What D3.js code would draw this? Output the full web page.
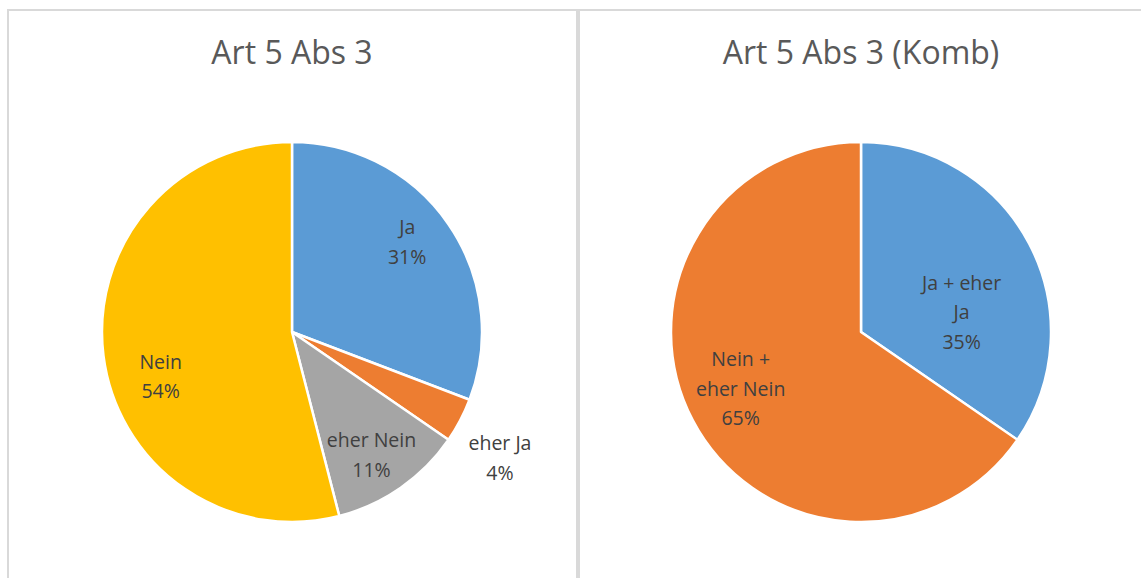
<!DOCTYPE html>
<html>
<head>
<meta charset="utf-8">
<script src="https://cdn.jsdelivr.net/npm/d3@7"></script>
<style>
  html, body { margin: 0; padding: 0; background: #fff; }
  svg { display: block; }
</style>
</head>
<body>
<svg id="chart" width="1141" height="578"></svg>
<script>
// left chart: four answers
const leftTitle = 'Art 5 Abs 3'
const leftCategories = ['Ja', 'eher Ja', 'eher Nein', 'Nein']
const leftValues = [30.8, 3.8, 11.4, 54.0]
const leftColors = ['#5b9bd5', '#ed7d31', '#a5a5a5', '#ffc000']

// right chart: combined answers
const rightTitle = 'Art 5 Abs 3 (Komb)'
const rightCategories = ['Ja + eher Ja', 'Nein + eher Nein']
const rightValues = [34.6, 65.4]
const rightColors = ['#5b9bd5', '#ed7d31']

const svg = d3.select('#chart')
const FONT = '"Open Sans", "Noto Sans", sans-serif'

function drawPanel(opts) {
    const g = svg.append('g')

    g.append('rect')
        .attr('x', opts.x)
        .attr('y', opts.y)
        .attr('width', opts.w)
        .attr('height', opts.h)
        .attr('fill', '#fff')
        .attr('stroke', '#d9d9d9')
        .attr('stroke-width', 2)

    g.append('text')
        .attr('x', opts.cx)
        .attr('y', 64)
        .attr('text-anchor', 'middle')
        .attr('font-family', FONT)
        .attr('font-size', 32)
        .attr('fill', '#595959')
        .text(opts.title)

    const pie = d3.pie().sort(null).value(d => d.value)
    const data = opts.categories.map((c, i) => ({ name: c, value: opts.values[i], color: opts.colors[i] }))
    const arcs = pie(data)
    const radius = 190
    const arc = d3.arc().innerRadius(0).outerRadius(radius)

    const pieG = g.append('g').attr('transform', `translate(${opts.cx},${opts.cy})`)

    pieG.selectAll('path')
        .data(arcs)
        .join('path')
        .attr('d', arc)
        .attr('fill', d => d.data.color)
        .attr('stroke', '#fff')
        .attr('stroke-width', 2.5)
        .attr('stroke-linejoin', 'round')

    const total = d3.sum(opts.values)
    arcs.forEach((d, i) => {
        const place = opts.labelPlace[i]
        const mid = (d.startAngle + d.endAngle) / 2 + place.shift * Math.PI / 180
        const r = radius * place.r
        const lx = Math.sin(mid) * r
        const ly = -Math.cos(mid) * r
        const lines = opts.wrap[i].concat([`${Math.round(d.data.value / total * 100)}%`])
        const lh = 29.5
        const t = pieG.append('text')
            .attr('text-anchor', 'middle')
            .attr('font-family', FONT)
            .attr('font-size', 19.5)
            .attr('fill', '#404040')
        lines.forEach((line, j) => {
            t.append('tspan')
                .attr('x', lx)
                .attr('y', ly + (j - (lines.length - 1) / 2) * lh + 7)
                .text(line)
        })
    })
}

drawPanel({
    x: 8, y: 10, w: 569, h: 600,
    cx: 292, cy: 332,
    title: leftTitle,
    categories: leftCategories,
    values: leftValues,
    colors: leftColors,
    wrap: [['Ja'], ['eher Ja'], ['eher Nein'], ['Nein']],
    labelPlace: [
        { r: 0.77, shift: -3.5 },
        { r: 1.28, shift: 3.5 },
        { r: 0.77, shift: 2 },
        { r: 0.73, shift: -11.5 },
    ],
})

drawPanel({
    x: 579, y: 10, w: 600, h: 600,
    cx: 861, cy: 332,
    title: rightTitle,
    categories: rightCategories,
    values: rightValues,
    colors: rightColors,
    wrap: [['Ja + eher', 'Ja'], ['Nein +', 'eher Nein']],
    labelPlace: [
        { r: 0.54, shift: 16.5 },
        { r: 0.70, shift: 2.5 },
    ],
})
</script>
</body>
</html>
